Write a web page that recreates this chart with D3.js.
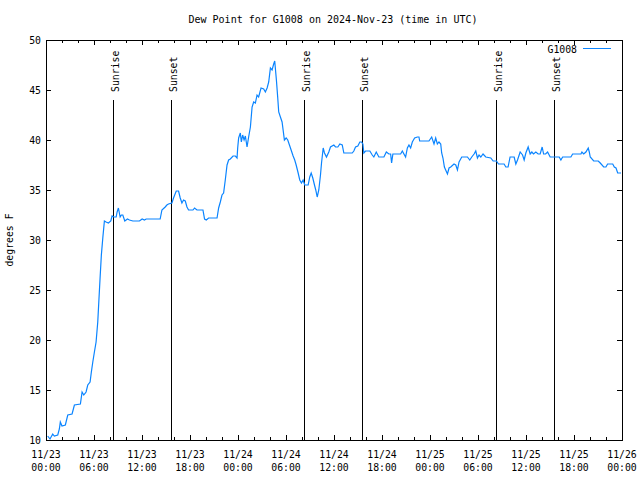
<!DOCTYPE html>
<html>
<head>
<meta charset="utf-8">
<script src="https://cdn.jsdelivr.net/npm/d3@7"></script>
<style>
  body { margin: 0; background: #fff; }
  svg { display: block; }
  text { font-family: "DejaVu Sans Mono", "Liberation Mono", monospace; font-size: 9.8px; fill: #000; }
</style>
</head>
<body>
<svg id="chart" width="640" height="480"></svg>
<script>
// ---- data (hours since 2024-11-23 00:00 UTC, dew point in °F) ----
const title = "Dew Point for G1008 on 2024-Nov-23 (time in UTC)";
const yLabel = "degrees F";
const seriesName = "G1008";
const hours = [0.21,0.50,0.84,1.04,1.47,1.67,1.79,2.00,2.42,2.72,3.26,3.55,4.30,4.51,4.72,5.01,5.22,5.51,5.67,5.85,
  6.05,6.26,6.47,6.60,6.76,6.92,7.10,7.30,7.51,7.80,8.10,8.26,8.48,8.77,8.89,9.05,9.27,9.43,9.60,9.85,
  10.18,10.43,10.86,11.68,12.02,12.31,12.52,14.27,14.49,14.90,15.11,15.31,15.74,15.94,16.28,16.57,16.78,16.99,17.19,17.41,
  17.62,17.82,18.37,18.57,18.87,19.62,19.82,20.04,20.32,21.38,21.58,21.79,22.00,22.20,22.41,22.63,22.83,23.04,23.38,23.67,
  23.88,23.96,24.08,24.29,24.42,24.58,24.76,24.92,25.13,25.33,25.55,25.76,25.96,26.17,26.38,26.58,26.88,27.21,27.42,27.64,
  27.84,28.05,28.26,28.46,28.59,28.80,28.96,29.09,29.30,29.51,29.64,29.80,30.02,30.22,30.43,30.64,30.89,31.09,31.27,31.52,
  31.72,31.93,32.14,32.34,32.77,32.97,33.15,33.35,33.56,33.72,33.90,34.10,34.31,34.44,34.65,34.81,35.06,35.35,35.56,35.98,
  36.19,36.48,36.73,37.03,37.23,38.28,38.48,38.69,38.98,39.23,39.44,39.61,39.73,39.94,40.48,40.78,40.98,41.28,41.61,42.24,
  42.54,42.86,43.08,43.20,43.36,44.33,44.54,44.74,44.95,45.17,45.37,45.58,45.79,46.08,46.42,46.62,46.71,47.87,48.21,48.50,
  48.71,48.92,49.12,49.34,49.46,49.62,49.80,49.96,50.18,50.38,50.59,51.00,51.22,51.43,51.63,51.97,52.68,52.97,53.22,53.51,
  53.72,53.93,54.13,54.35,54.63,54.97,55.60,55.89,56.31,56.56,57.26,57.48,57.76,58.01,58.52,58.73,58.94,59.27,59.57,59.77,
  59.98,60.27,60.52,60.73,60.94,61.23,61.52,61.77,62.02,62.20,62.45,62.70,63.02,64.15,64.36,64.58,65.61,65.83,66.87,66.99,
  67.21,67.49,67.78,67.91,68.03,68.46,69.03,69.28,69.71,69.99,70.20,70.84,71.04,71.25,71.46,71.88];
const dewPoint = [10.4,10.1,10.6,10.4,10.5,11.1,11.8,11.4,11.5,12.5,12.6,13.5,13.6,14.8,14.5,14.8,15.5,15.8,16.8,17.8,
  18.8,19.8,21.8,23.8,26.2,28.5,30.2,31.9,31.8,31.7,31.9,32.4,32.3,32.3,32.8,33.2,32.3,32.5,32.5,31.9,
  32.1,32.0,31.9,31.9,32.1,32.0,32.1,32.1,33.0,33.3,33.5,33.6,33.7,34.2,34.9,34.9,34.2,33.7,34.0,33.9,
  33.3,33.0,33.0,33.2,33.0,33.0,32.1,32.0,32.2,32.2,33.2,33.8,34.5,34.7,36.0,37.5,38.0,38.1,38.4,38.4,
  38.2,39.2,40.2,40.7,39.8,40.5,40.0,40.4,39.3,40.3,41.3,43.3,43.8,43.7,44.5,44.3,45.2,45.1,44.8,45.2,
  45.8,47.2,47.0,47.6,47.9,46.0,44.3,42.8,42.3,41.8,41.0,40.0,40.2,40.0,39.5,39.0,38.4,38.0,37.5,36.7,
  36.0,35.7,36.0,35.5,35.5,36.3,36.7,36.2,35.5,35.0,34.3,35.0,36.5,37.7,39.2,38.7,38.3,38.8,39.3,39.5,
  39.3,39.3,39.6,39.5,38.7,38.7,38.9,39.3,39.4,39.8,39.8,39.6,38.7,38.9,38.9,38.5,38.3,38.8,38.3,38.3,
  38.8,38.6,38.6,37.7,38.6,38.6,38.9,38.6,38.3,39.2,39.5,39.2,39.8,40.2,40.3,40.3,39.9,39.9,40.3,39.6,
  40.2,39.6,39.8,39.6,38.7,38.2,37.3,37.0,36.6,37.2,37.3,37.6,37.5,37.0,37.8,38.3,38.3,38.0,38.3,38.6,
  38.9,38.2,38.5,38.3,38.6,38.3,38.2,37.9,37.9,37.6,37.6,37.3,37.3,38.3,38.3,37.6,38.0,38.8,38.5,38.0,
  38.7,39.3,38.6,38.8,38.6,38.8,38.6,38.6,39.3,38.6,38.6,38.8,38.3,38.3,38.0,38.3,38.3,38.6,38.6,38.8,
  38.6,38.8,39.2,38.8,38.3,37.9,37.9,37.7,37.3,37.3,37.6,37.6,37.3,37.2,36.7,36.7];
// sun events (hours since start) with their labels
const sunHours = [8.35, 15.6, 32.3, 39.55, 56.3, 63.55];
const sunLabels = ["Sunrise", "Sunset", "Sunrise", "Sunset", "Sunrise", "Sunset"];
const yTicks = [10, 15, 20, 25, 30, 35, 40, 45, 50];

// ---- chart ----
const start = Date.UTC(2024, 10, 23);
const toDate = h => new Date(start + h * 3600e3);
const L = 46, R = 622, T = 40, B = 440;
const svg = d3.select("#chart");
const x = d3.scaleUtc().domain([toDate(0), toDate(72)]).range([L, R]);
const y = d3.scaleLinear().domain([10, 50]).range([B, T]);

svg.append("text").attr("x", 333).attr("y", 23).attr("text-anchor", "middle")
  .style("font-size", "10px").text(title);

// minor + major x ticks (inward, mirrored)
const g = svg.append("g").attr("shape-rendering", "crispEdges");
function xTickAxis(axisFn, ypos, interval, size) {
  const a = g.append("g").attr("transform", `translate(0,${ypos})`)
    .call(axisFn(x).ticks(interval).tickSize(-size).tickFormat(""));
  a.select(".domain").remove();
  a.selectAll("line").attr("stroke", "#000");
}
xTickAxis(d3.axisBottom, B, d3.utcHour.every(2), 3);
xTickAxis(d3.axisBottom, B, d3.utcHour.every(6), 5);
xTickAxis(d3.axisTop, T, d3.utcHour.every(2), 3);
xTickAxis(d3.axisTop, T, d3.utcHour.every(6), 5);
function yTickAxis(axisFn, xpos) {
  const a = g.append("g").attr("transform", `translate(${xpos},0)`)
    .call(axisFn(y).tickValues(yTicks).tickSize(-5).tickFormat(""));
  a.select(".domain").remove();
  a.selectAll("line").attr("stroke", "#000");
}
yTickAxis(d3.axisLeft, L);
yTickAxis(d3.axisRight, R);

// tick labels
const fmtD = d3.utcFormat("%m/%d"), fmtT = d3.utcFormat("%H:%M");
const xt = svg.append("g").selectAll("text").data(x.ticks(d3.utcHour.every(6))).join("text")
  .attr("text-anchor", "middle").attr("x", d => x(d)).attr("y", 458);
xt.append("tspan").attr("x", d => x(d)).text(d => fmtD(d));
xt.append("tspan").attr("x", d => x(d)).attr("dy", 12.5).text(d => fmtT(d));
svg.append("g").selectAll("text").data(yTicks).join("text")
  .attr("text-anchor", "end").attr("x", 41).attr("y", d => y(d)).attr("dy", "0.36em").text(d => d);

svg.append("text").attr("transform", "translate(13,240) rotate(-90)")
  .attr("text-anchor", "middle").text(yLabel);

// sunrise / sunset lines
const sun = svg.append("g");
sun.selectAll("line").data(sunHours).join("line")
  .attr("x1", d => Math.round(x(toDate(d))) + 0.5).attr("x2", d => Math.round(x(toDate(d))) + 0.5)
  .attr("y1", y(44)).attr("y2", y(10)).attr("stroke", "#000").attr("shape-rendering", "crispEdges");
sun.selectAll("text").data(sunHours).join("text")
  .attr("transform", d => `translate(${Math.round(x(toDate(d))) + 6},92) rotate(-90)`)
  .text((d, i) => sunLabels[i]);

// data line
const pts = hours.map((h, i) => [toDate(h), dewPoint[i]]);
svg.append("path").datum(pts)
  .attr("fill", "none").attr("stroke", "#0a84ff").attr("stroke-width", 1.2)
  .attr("d", d3.line().x(d => x(d[0])).y(d => y(d[1])));

// frame
svg.append("rect").attr("x", L + 0.5).attr("y", T + 0.5).attr("width", R - L).attr("height", B - T)
  .attr("fill", "none").attr("stroke", "#000").attr("shape-rendering", "crispEdges");

// legend
svg.append("text").attr("x", 577).attr("y", 52.5).attr("text-anchor", "end").text(seriesName);
svg.append("line").attr("x1", 583).attr("x2", 611).attr("y1", 48.5).attr("y2", 48.5)
  .attr("stroke", "#0a84ff").attr("shape-rendering", "crispEdges");
</script>
</body>
</html>
